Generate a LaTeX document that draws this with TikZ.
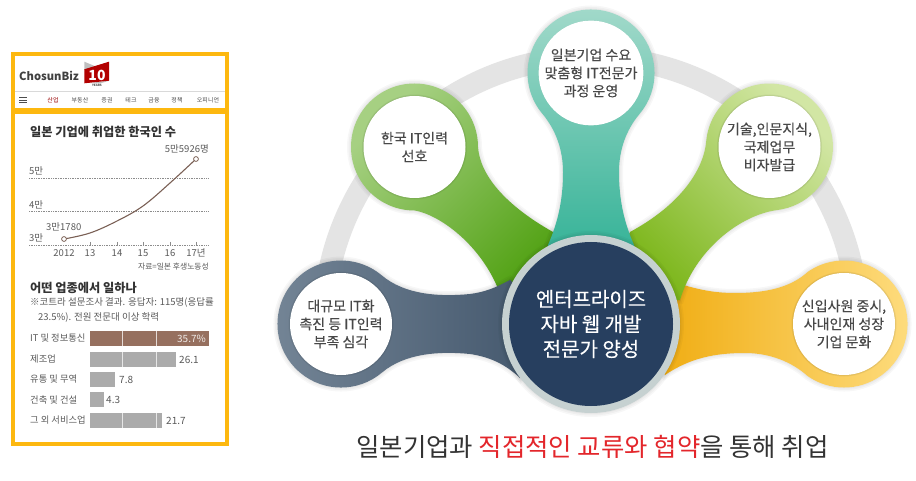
\documentclass[tikz,border=0pt]{standalone}
\usepackage{fontspec}
\setmainfont{Noto Sans CJK KR}
\newfontfamily\medfont[FakeBold=0.25]{Noto Sans CJK KR}
\usetikzlibrary{calc}
\definecolor{frameY}{HTML}{FDB80F}
\definecolor{navy}{HTML}{273F5F}
\definecolor{rim}{HTML}{C6D1D1}
\definecolor{arcG}{HTML}{E4E4E4}
\definecolor{txtG}{HTML}{484848}
\definecolor{panelT}{HTML}{5A5A5A}
\definecolor{barB}{HTML}{96705F}
\definecolor{barG}{HTML}{ABABAB}
\definecolor{lineB}{HTML}{7A6055}
\definecolor{titleR}{HTML}{E3262B}
\definecolor{yA}{HTML}{EFA90A}\definecolor{yB}{HTML}{FEDD80}
\definecolor{dA}{HTML}{748596}\definecolor{dM}{HTML}{566A7F}\definecolor{dB}{HTML}{3F5369}
\definecolor{lgA}{HTML}{A6D082}\definecolor{lgB}{HTML}{4FA010}
\definecolor{rgA}{HTML}{D2E6A4}\definecolor{rgB}{HTML}{78B414}
\definecolor{tA}{HTML}{A4DACB}\definecolor{tB}{HTML}{25AD90}
\newcommand\softglow[1]{\foreach \w in {8,5,2}{\draw[black,opacity=.03,line width=\w pt] #1;}}
\newcommand\thinglow[1]{\foreach \w in {3,1.5}{\draw[black,opacity=.05,line width=\w pt] #1;}}
\newcommand\blob[2]{\softglow{#1}\shade[#2] #1;}
\tikzset{
  inner/.style={circle,fill=white,minimum size=102pt,inner sep=0pt,align=center,text=txtG,font=\medfont\fontsize{14}{18}\selectfont},
  ptxt/.style={inner sep=0pt,text=panelT,font=\fontsize{#1}{#1}\selectfont},
  ptxt/.default=9,
  ptitle/.style={inner sep=0pt,text=black!80,font=\fontsize{12.2}{14}\selectfont\bfseries},
  gridl/.style={densely dotted,black!45,line width=.7pt},
  navt/.style={inner sep=0pt,text=black!70,font=\fontsize{6}{7}\selectfont},
  frameb/.style={draw=frameY,line width=3.6pt,fill=white}
}
\begin{document}
\begin{tikzpicture}[x=1pt,y=1pt,yscale=-1]
\useasboundingbox (0,0) rectangle (916,481);
\fill[white] (0,0) rectangle (916,481);
\coordinate (cC) at (591,324);
\coordinate (cD) at (341,324);
\coordinate (cL) at (414.5,147);
\coordinate (cT) at (591,73);
\coordinate (cR) at (769.5,147);
\coordinate (cY) at (844,324);
% grey arc
\draw[arcG,line width=22pt] (cC) ++(180:267) arc[start angle=180,end angle=360,radius=267];
% yellow
\blob{(807.6,272) arc[start angle=235,end angle=485,radius=63.5] .. controls (792,362) and (770,353) .. (745,353) .. controls (715,353) and (690,358) .. (665,375) -- (640,330) -- (680,284) .. controls (700,290) and (715,293) .. (735,293) .. controls (765,293) and (790,288) .. cycle}{left color=yA,right color=yB}
% right green
\blob{(706.3,140.4) arc[start angle=186,end angle=443,radius=63.5] .. controls (740,215) and (695,250) .. (680,300) -- (600,300) -- (630,232) .. controls (680,205) and (704,170) .. cycle}{top color=rgA,bottom color=rgB,shading angle=-45}
% left green
\blob{(478,147) arc[start angle=0,end angle=-270,radius=63.5] .. controls (442,215) and (487,250) .. (502,300) -- (575,300) -- (553,232) .. controls (505,205) and (480,175) .. cycle}{top color=lgA,bottom color=lgB,shading angle=45}
% teal
\blob{(542.4,113.8) arc[start angle=140,end angle=400,radius=63.5] .. controls (626,130) and (619,150) .. (619,172) .. controls (619,200) and (624,222) .. (634,245) -- (634,290) -- (548,290) -- (548,245) .. controls (558,222) and (563,200) .. (563,172) .. controls (563,150) and (556,130) .. cycle}{top color=tA,bottom color=tB}
% dark
\blob{(381.8,275.4) arc[start angle=-50,end angle=-310,radius=63.5] .. controls (405,353) and (440,351) .. (470,354) .. controls (490,357) and (505,364) .. (520,378) -- (560,324) -- (510,280) .. controls (495,288) and (485,292) .. (470,294) .. controls (440,297) and (405,295) .. cycle}{left color=dA,middle color=dM,right color=dB}
% white inner circles
\thinglow{(cD) circle[radius=51]}\node[inner] (nD) at (cD) {대규모 IT화\\촉진 등 IT인력\\부족 심각};
\thinglow{(cL) circle[radius=51]}\node[inner] (nL) at (cL) {한국 IT인력\\선호};
\thinglow{(cT) circle[radius=51]}\node[inner] (nT) at (cT) {일본기업 수요\\맞춤형 IT전문가\\과정 운영};
\thinglow{(cR) circle[radius=51]}\node[inner] (nR) at (cR) {기술,인문지식,\\국제업무\\비자발급};
\thinglow{(cY) circle[radius=51]}\node[inner] (nY) at (cY) {신입사원 중시,\\사내인재 성장\\기업 문화};
% centre
\softglow{(cC) circle[radius=89]}
\fill[rim] (cC) circle[radius=89];
\node[circle,fill=navy,minimum size=164pt,inner sep=0pt,align=center,text=white,font=\medfont\fontsize{20}{25}\selectfont] (nC) at (cC) {엔터프라이즈\\자바 웹 개발\\전문가 양성};
% title
\node[inner sep=0pt,text=black!80,font=\fontsize{25.4}{30}\selectfont] (title) at (592.5,447) {일본기업과 \textcolor{titleR}{직접적인 교류와 협약}을 통해 취업};
% left panel frames
\draw[frameb] (12.8,53.8) rectangle (227.2,110);
\draw[frameb] (12.8,112) rectangle (227.2,444);
% header
\node[inner sep=0pt,anchor=west,text=black!75,font=\fontsize{11.2}{14}\selectfont\bfseries] (brand) at (19,76) {ChosunBiz};
\fill[black!25] (84.3,61.7) -- (97,67) -- (84.3,70) -- cycle;
\fill[black!25] (90,83) -- (109,80.7) -- (100,83.5) -- cycle;
\fill[red!70!black] (84.3,69.3) -- (109,61.7) -- (109,80.7) -- (84.3,83.3) -- cycle;
\node[inner sep=0pt,text=white,font=\fontsize{14}{14}\selectfont\bfseries] (ten) at (97,75) {10};
\node[inner sep=0pt,text=black!70,font=\fontsize{3}{3}\selectfont\bfseries] (yrs) at (97,85.5) {YEARS};
\draw[black!15,line width=.6pt] (14.6,91) -- (225.4,91);
\draw[black!70,line width=.9pt] (19,97.5) -- (27,97.5) (19,100) -- (27,100) (19,102.5) -- (27,102.5);
\node[navt,text=red!60!black] (n1) at (53,100) {산업};
\node[navt] (n2) at (80,100) {부동산};
\node[navt] (n3) at (107,100) {증권};
\node[navt] (n4) at (131,100) {테크};
\node[navt] (n5) at (154,100) {금융};
\node[navt] (n6) at (177,100) {정책};
\node[navt] (n7) at (208,100) {오피니언};
% line chart
\node[ptitle,anchor=west] (t1) at (30,132) {일본 기업에 취업한 한국인 수};
\node[ptxt=9.5,anchor=east] (v2) at (209,149) {5만5926명};
\draw[gridl] (29,178) -- (209,178);
\draw[gridl] (29,211) -- (209,211);
\draw[gridl] (29,245) -- (209,245);
\node[ptxt=9.5,anchor=west] (y5) at (29,171) {5만};
\node[ptxt=9.5,anchor=west] (y4) at (29,205) {4만};
\node[ptxt=9.5,anchor=west] (y3) at (29,238) {3만};
\node[ptxt=9.5,anchor=west] (v1) at (46,227) {3만1780};
\foreach \x in {90,117,143,170,196} \draw[black!45,line width=.5pt] (\x,242) -- (\x,245);
\draw[lineB,line width=1.1pt] plot[smooth,tension=.6] coordinates {(64,239)(90,233)(117,221)(143,206)(170,183)(196,159)};
\draw[lineB,fill=white,line width=.8pt] (64,239) circle[radius=2.4] (196,159) circle[radius=2.4];
\foreach \x/\l [count=\i] in {64/2012,90/13,117/14,143/15,170/16,196/17년} \node[ptxt=9.5] (xl\i) at (\x,253) {\l};
\node[ptxt=7.8,anchor=east] (src) at (209,267) {자료=일본 후생노동성};
% bars
\node[ptitle,anchor=west] (t2) at (30,288) {어떤 업종에서 일하나};
\node[ptxt=9.5,anchor=west] (n1a) at (30,303) {※코트라 설문조사 결과. 응답자: 115명(응답률};
\node[ptxt=9.5,anchor=west] (n1b) at (38,317) {23.5\%). 전원 전문대 이상 학력};
\fill[barB] (89.5,331) rectangle (209,346);
\fill[barG] (89.5,352) rectangle (176,367);
\fill[barG] (89.5,372) rectangle (115,387);
\fill[barG] (89.5,392) rectangle (104,407);
\fill[barG] (89.5,413) rectangle (162,428);
\foreach \x in {122,156} {
  \draw[white!75!barB,line width=.8pt] (\x,331) -- (\x,346);
  \draw[white!70!barG,line width=.8pt] (\x,352) -- (\x,367) (\x,413) -- (\x,428);
}
\node[inner sep=0pt,anchor=east,text=white!85!barB,font=\fontsize{10}{10}\selectfont] (b1) at (206,338.5) {35.7\%};
\node[ptxt=10,anchor=west] (b2) at (179,359.5) {26.1};
\node[ptxt=10,anchor=west] (b3) at (119,379.5) {7.8};
\node[ptxt=10,anchor=west] (b4) at (106,400) {4.3};
\node[ptxt=10,anchor=west] (b5) at (166,420.5) {21.7};
\node[ptxt=9.3,anchor=west] (l1) at (30,338.5) {IT 및 정보통신};
\node[ptxt=9.3,anchor=west] (l2) at (30,359) {제조업};
\node[ptxt=9.3,anchor=west] (l3) at (30,379) {유통 및 무역};
\node[ptxt=9.3,anchor=west] (l4) at (30,400) {건축 및 건설};
\node[ptxt=9.3,anchor=west] (l5) at (30,420) {그 외 서비스업};
\end{tikzpicture}
\end{document}
